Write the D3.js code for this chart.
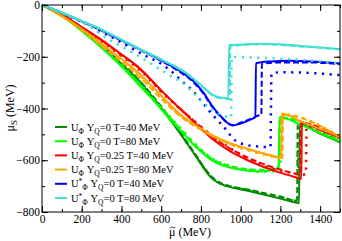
<!DOCTYPE html>
<html>
<head>
<meta charset="utf-8">
<script src="https://cdn.jsdelivr.net/npm/d3@7"></script>
<style>
body { margin: 0; background: #fff; }
svg { display: block; font-family: "Liberation Serif", "DejaVu Serif", serif; }
</style>
</head>
<body>
<div id="root"></div>
<script>
const w = 342, h = 241

// ticks
const xTicks = [0, 200, 400, 600, 800, 1000, 1200, 1400]
const yTicks = [0, -200, -400, -600, -800]
const xMinor = d3.range(0, 1501, 100)
const yMinor = d3.range(-800, 1, 100)

// series, [mu, muS] in MeV
const dgSolid = [[0,0],[100,-38],[200,-92],[300,-155],[393,-222],[500,-305],[600,-398],[695,-496],[779,-590],[845,-662],[880,-684],[930,-700],[1030,-717],[1131,-735],[1200,-748],[1288,-765],[1294,-766],[1297,-462],[1400,-497],[1500,-531]]
const dgDash = [[0,0],[100,-38],[200,-90],[300,-152],[393,-218],[500,-300],[600,-392],[695,-490],[779,-585],[845,-656],[880,-680],[930,-696],[1030,-712],[1131,-729],[1200,-740],[1284,-757],[1287,-460],[1400,-496],[1500,-530]]
const dgDot = [[0,0],[100,-38],[200,-91],[300,-153],[393,-220],[500,-302],[600,-395],[695,-493],[779,-588],[845,-659],[880,-682],[930,-698],[1030,-714],[1131,-732],[1200,-744],[1280,-758],[1290,-760],[1292,-462],[1500,-531]]

const bgSolid = [[0,0],[100,-42],[200,-100],[300,-165],[393,-232],[500,-318],[600,-402],[644,-444],[695,-483],[779,-552],[861,-603],[946,-628],[1030,-640],[1097,-643],[1163,-638],[1190,-630],[1196,-433],[1300,-462],[1400,-495],[1500,-528]]
const bgDash = [[0,0],[100,-41],[200,-98],[300,-162],[393,-228],[500,-312],[600,-398],[695,-478],[779,-546],[861,-597],[946,-622],[1030,-634],[1097,-637],[1163,-633],[1192,-626],[1198,-435],[1500,-527]]
const bgDot = [[0,0],[100,-41],[200,-97],[300,-160],[393,-226],[500,-310],[600,-395],[695,-475],[779,-543],[861,-595],[946,-622],[1047,-642],[1120,-645],[1180,-640],[1200,-636],[1203,-437],[1500,-527]]

const redSolid = [[0,0],[100,-37],[200,-85],[300,-135],[393,-187],[500,-250],[600,-330],[700,-405],[753,-444],[800,-478],[861,-520],[946,-565],[1030,-598],[1113,-625],[1198,-648],[1282,-667],[1305,-672],[1308,-455],[1400,-483],[1500,-512]]
const redDash = [[0,0],[100,-37],[200,-86],[300,-137],[393,-190],[500,-253],[600,-332],[700,-403],[800,-472],[861,-512],[946,-555],[1030,-588],[1113,-614],[1198,-636],[1282,-653],[1300,-656],[1303,-456],[1500,-512]]
const redDot = [[0,0],[100,-38],[200,-88],[300,-140],[393,-193],[500,-257],[600,-335],[700,-405],[800,-470],[861,-508],[946,-553],[1030,-590],[1105,-618],[1200,-640],[1250,-648],[1300,-655],[1328,-655],[1332,-468],[1500,-515]]

const orSolid = [[0,0],[100,-42],[200,-92],[300,-150],[393,-205],[500,-272],[600,-350],[700,-425],[800,-478],[861,-505],[950,-535],[1030,-554],[1100,-570],[1181,-586],[1203,-590],[1207,-419],[1300,-449],[1400,-479],[1500,-509]]
const orDash = [[0,0],[100,-44],[200,-97],[300,-158],[393,-215],[500,-285],[600,-362],[700,-433],[800,-482],[861,-508],[950,-538],[1030,-557],[1100,-573],[1181,-588],[1210,-592],[1213,-425],[1500,-510]]
const orDot = [[0,0],[100,-43],[200,-95],[300,-154],[393,-210],[500,-278],[600,-355],[700,-428],[800,-480],[861,-508],[950,-540],[1030,-560],[1100,-575],[1181,-590],[1208,-594],[1211,-422],[1500,-510]]

const blSolid = [[0,0],[100,-30],[200,-63],[300,-97],[400,-136],[500,-174],[600,-213],[700,-258],[750,-285],[810,-336],[861,-395],[900,-430],[960,-466],[1000,-458],[1063,-438],[1074,-434],[1077,-225],[1150,-218],[1250,-215],[1350,-218],[1500,-226]]
const blDash = [[0,0],[100,-30],[200,-64],[300,-99],[400,-138],[500,-176],[600,-216],[700,-262],[750,-290],[810,-340],[861,-398],[900,-432],[960,-464],[1000,-455],[1060,-437],[1090,-427],[1104,-425],[1107,-228],[1200,-222],[1350,-222],[1500,-229]]
const blDot = [[0,0],[100,-31],[200,-65],[300,-103],[400,-145],[500,-188],[609,-232],[669,-268],[703,-294],[745,-321],[778,-348],[804,-373],[845,-412],[911,-468],[981,-528],[1062,-545],[1150,-549],[1155,-265],[1200,-260],[1300,-261],[1400,-265],[1500,-271]]

const cySolid = [[0,0],[100,-30],[200,-62],[300,-95],[400,-134],[493,-170],[600,-210],[644,-228],[728,-264],[810,-316],[861,-348],[896,-357],[938,-360],[942,-155],[1000,-153],[1100,-150],[1200,-152],[1300,-158],[1400,-164],[1500,-170]]
const cyDash = [[0,0],[100,-30],[200,-62],[300,-96],[400,-135],[493,-172],[600,-212],[700,-250],[810,-318],[861,-350],[900,-360],[945,-363],[948,-158],[1100,-152],[1300,-160],[1500,-172]]
const cyDot = [[0,0],[100,-31],[200,-64],[325,-128],[443,-178],[560,-232],[650,-275],[711,-302],[745,-326],[846,-399],[904,-425],[952,-435],[955,-201],[1100,-204],[1300,-212],[1500,-225]]

const colors = ["#008b00", "#00ff00", "#ff0000", "#ffa500", "#0000ff", "#40e0d0"]
const series = [
    [dgSolid, dgDash, dgDot],
    [bgSolid, bgDash, bgDot],
    [redSolid, redDash, redDot],
    [orSolid, orDash, orDot],
    [blSolid, blDash, blDot],
    [cySolid, cyDash, cyDot]
]
// legend labels
const legendStar = [false, false, false, false, true, true]
const legendY = ["0", "0", "0.25", "0.25", "0", "0"]
const legendT = ["40", "80", "40", "80", "40", "80"]

const mLeft = 42, mRight = 340, mTop = 5, mBottom = 212

const x = d3.scaleLinear().domain([0, 1500]).range([mLeft, mRight])
const y = d3.scaleLinear().domain([-800, 0]).range([mBottom, mTop])

const svg = d3.select("#root").append("svg")
    .attr("width", w)
    .attr("height", h)

const line = d3.line()
    .x(d => x(d[0]))
    .y(d => y(d[1]))
    .curve(d3.curveMonotoneX)

const dashes = [null, "6,3", "2.2,5.5"]

const plot = svg.append("g")
series.forEach((group, i) => {
    group.forEach((data, k) => {
        plot.append("path")
            .datum(data)
            .attr("fill", "none")
            .attr("stroke", colors[i])
            .attr("stroke-width", k === 2 ? 2.5 : 2)
            .attr("stroke-dasharray", dashes[k])
            .attr("d", line)
    })
})

// axes, ticks inward on all sides
function ticks(g, axis) {
    g.call(axis)
    g.select(".domain").remove()
    g.selectAll("line").attr("stroke", "#000")
}
svg.append("g").attr("transform", `translate(0,${mBottom})`)
    .call(ticks, d3.axisBottom(x).tickValues(xMinor).tickSize(-3).tickFormat(""))
svg.append("g").attr("transform", `translate(0,${mBottom})`)
    .call(ticks, d3.axisBottom(x).tickValues(xTicks).tickSize(-6).tickPadding(3).tickFormat(d3.format("d")))
svg.append("g").attr("transform", `translate(0,${mTop})`)
    .call(ticks, d3.axisTop(x).tickValues(xMinor).tickSize(-3).tickFormat(""))
svg.append("g").attr("transform", `translate(0,${mTop})`)
    .call(ticks, d3.axisTop(x).tickValues(xTicks).tickSize(-6).tickFormat(""))
svg.append("g").attr("transform", `translate(${mLeft},0)`)
    .call(ticks, d3.axisLeft(y).tickValues(yMinor).tickSize(-3).tickFormat(""))
svg.append("g").attr("transform", `translate(${mLeft},0)`)
    .call(ticks, d3.axisLeft(y).tickValues(yTicks).tickSize(-6).tickPadding(2).tickFormat(d3.format("d")))
svg.append("g").attr("transform", `translate(${mRight},0)`)
    .call(ticks, d3.axisRight(y).tickValues(yMinor).tickSize(-3).tickFormat(""))
svg.append("g").attr("transform", `translate(${mRight},0)`)
    .call(ticks, d3.axisRight(y).tickValues(yTicks).tickSize(-6).tickFormat(""))

svg.selectAll(".tick text")
    .attr("font-family", "Liberation Serif, serif")
    .attr("font-size", 11.5)
    .attr("fill", "#000")

svg.append("rect")
    .attr("x", mLeft).attr("y", mTop)
    .attr("width", mRight - mLeft).attr("height", mBottom - mTop)
    .attr("fill", "none").attr("stroke", "#000").attr("stroke-width", 1)

// axis titles
const xt = svg.append("text")
    .attr("x", 190).attr("y", 236)
    .attr("text-anchor", "middle")
    .attr("font-size", 12)
    .text("\u03bc (MeV)")
// tilde accent over mu, drawn as a small path
const muBox = xt.node().getExtentOfChar(0)
const tx = muBox.x + muBox.width / 2 + 0.5, ty = 227.5
svg.append("path")
    .attr("d", `M${tx - 2.6},${ty + 0.8} Q${tx - 1.3},${ty - 1.2} ${tx},${ty} T${tx + 2.6},${ty - 0.8}`)
    .attr("fill", "none")
    .attr("stroke", "#000")
    .attr("stroke-width", 0.8)

const yt = svg.append("text")
    .attr("transform", "translate(14,108) rotate(-90)")
    .attr("text-anchor", "middle")
    .attr("font-size", 12)
yt.append("tspan").text("\u03bc")
yt.append("tspan").attr("font-size", 9).attr("dy", 3).text("S")
yt.append("tspan").attr("dy", -3).text(" (MeV)")

// legend
const leg = svg.append("g")
colors.forEach((c, i) => {
    const ly = 127 + i * 14.2
    leg.append("line")
        .attr("x1", 55).attr("x2", 67)
        .attr("y1", ly).attr("y2", ly)
        .attr("stroke", c).attr("stroke-width", 2)
    const t = leg.append("text")
        .attr("x", 71).attr("y", ly + 3.5)
        .attr("font-size", 10.5)
    t.append("tspan").text("U")
    let base = 0
    if (legendStar[i]) {
        t.append("tspan").attr("font-size", 7.5).attr("dy", -3).text("*")
        base = -3
    }
    t.append("tspan").attr("font-size", 7.5).attr("dy", 3 - base).text("\u03a6")
    t.append("tspan").attr("dy", -3).text(" Y")
    t.append("tspan").attr("font-size", 7.5).attr("dy", 3).text("Q")
    t.append("tspan").attr("dy", -3).text("=" + legendY[i] + " T=" + legendT[i] + " MeV")
})
</script>
</body>
</html>
